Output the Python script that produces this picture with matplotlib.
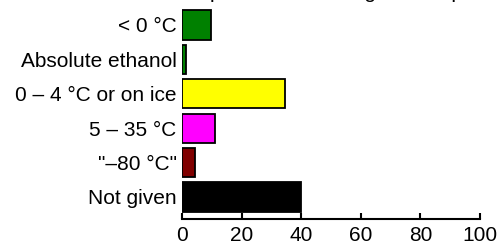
import matplotlib
matplotlib.use('Agg')
import matplotlib.pyplot as plt

plt.rcParams['font.family'] = ['Liberation Sans', 'DejaVu Sans']

# categories top -> bottom
categorias = ['< 0 °C', 'Absolute ethanol', '0 – 4 °C or on ice', '5 – 35 °C', '"–80 °C"', 'Not given']
valores = [9.5, 1.4, 34.4, 11.0, 4.3, 40.0]
cores = ['#008000', '#008000', '#ffff00', '#ff00ff', '#800000', '#000000']
xticks = [0, 20, 40, 60, 80, 100]
titulo = 'Specimen at storage / transport'

fs = 15
fig = plt.figure(figsize=(4.98, 2.45), dpi=100)
W, H = 498, 245
ax = fig.add_axes([182.3 / W, (H - 219) / H, (480 - 182.3) / W, (219 - 5) / H])

pos = list(range(len(categorias)))[::-1]
ax.barh(pos, valores, height=0.85, color=cores, edgecolor='black', linewidth=1.3)

ax.set_xlim(0, 100)
ax.set_ylim(-0.64, 5.58)
ax.set_xticks(xticks)
ax.set_yticks(pos)
ax.set_yticklabels(categorias)

for s in ['top', 'right', 'left']:
    ax.spines[s].set_visible(False)
ax.spines['bottom'].set_linewidth(1.5)
ax.tick_params(axis='x', direction='in', length=4, width=1.5, labelsize=fs, pad=5)
ax.tick_params(axis='y', length=0, labelsize=fs, pad=4)

# title sits mostly above the visible area, only descenders show
fig.text(195.5 / W, 1 + 1.7 / H, titulo, fontsize=fs, ha='left', va='baseline')

fig.savefig('out.png', dpi=100)
